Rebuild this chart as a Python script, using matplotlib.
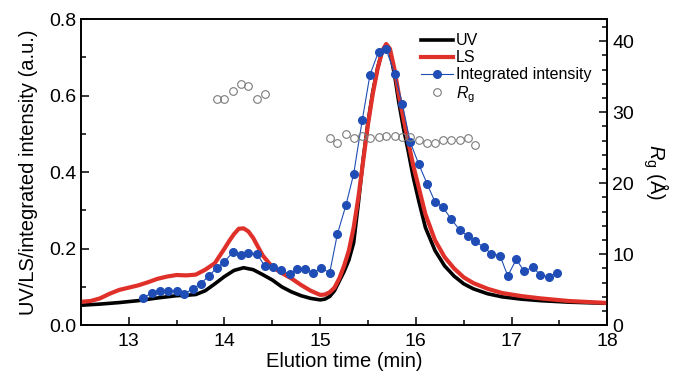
import numpy as np
import matplotlib.pyplot as plt

plt.rcParams['font.family'] = ['Liberation Sans', 'DejaVu Sans']
plt.rcParams['mathtext.fontset'] = 'custom'
plt.rcParams['mathtext.it'] = 'Liberation Sans:italic'
plt.rcParams['mathtext.rm'] = 'Liberation Sans'

# UV trace
uv_t = [12.5, 12.7, 12.9, 13.1, 13.3, 13.5, 13.6, 13.7, 13.8, 13.9, 14.0, 14.1, 14.2,
        14.3, 14.4, 14.5, 14.6, 14.7, 14.8, 14.9, 15.0, 15.05, 15.1, 15.15, 15.2,
        15.25, 15.3, 15.35, 15.4, 15.45, 15.5, 15.55, 15.6, 15.65, 15.69, 15.73,
        15.78, 15.82, 15.87, 15.92, 15.97, 16.03, 16.1, 16.2, 16.3, 16.4, 16.5,
        16.6, 16.75, 16.9, 17.1, 17.3, 17.6, 18.0]
uv = [0.052, 0.055, 0.059, 0.064, 0.071, 0.077, 0.078, 0.080, 0.090, 0.108, 0.127,
      0.143, 0.150, 0.145, 0.132, 0.118, 0.100, 0.087, 0.077, 0.070, 0.066, 0.068,
      0.075, 0.090, 0.115, 0.140, 0.170, 0.215, 0.320, 0.435, 0.530, 0.610, 0.672,
      0.718, 0.732, 0.715, 0.650, 0.585, 0.515, 0.455, 0.390, 0.325, 0.255, 0.195,
      0.155, 0.128, 0.108, 0.095, 0.082, 0.074, 0.068, 0.064, 0.060, 0.057]

# LS trace
ls_t = [12.5, 12.6, 12.7, 12.8, 12.9, 13.0, 13.1, 13.2, 13.3, 13.4, 13.5, 13.6, 13.7,
        13.8, 13.9, 14.0, 14.05, 14.1, 14.15, 14.2, 14.25, 14.3, 14.35, 14.4, 14.5,
        14.6, 14.7, 14.8, 14.9, 15.0, 15.05, 15.1, 15.15, 15.2, 15.25, 15.3, 15.35,
        15.4, 15.45, 15.5, 15.55, 15.6, 15.65, 15.69, 15.73, 15.78, 15.82, 15.87,
        15.92, 15.97, 16.03, 16.1, 16.2, 16.3, 16.4, 16.5, 16.6, 16.75, 16.9, 17.1,
        17.3, 17.6, 18.0]
ls = [0.061, 0.063, 0.070, 0.082, 0.092, 0.098, 0.104, 0.112, 0.121, 0.127, 0.131,
      0.130, 0.132, 0.145, 0.162, 0.200, 0.220, 0.238, 0.252, 0.253, 0.245, 0.228,
      0.205, 0.182, 0.152, 0.136, 0.122, 0.105, 0.090, 0.079, 0.080, 0.086, 0.098,
      0.122, 0.155, 0.195, 0.255, 0.335, 0.430, 0.525, 0.605, 0.670, 0.718, 0.735,
      0.722, 0.665, 0.605, 0.540, 0.480, 0.420, 0.360, 0.290, 0.222, 0.178, 0.148,
      0.125, 0.110, 0.095, 0.084, 0.076, 0.070, 0.063, 0.058]

# integrated intensity points
ii_t = [13.15, 13.24, 13.33, 13.41, 13.50, 13.58, 13.67, 13.75, 13.84, 13.92, 14.00,
        14.09, 14.17, 14.25, 14.34, 14.42, 14.51, 14.59, 14.68, 14.76, 14.84, 14.93,
        15.01, 15.10, 15.18, 15.27, 15.35, 15.44, 15.52, 15.61, 15.69, 15.78, 15.86,
        15.94, 16.03, 16.12, 16.20, 16.28, 16.37, 16.46, 16.54, 16.62, 16.71, 16.79,
        16.88, 16.96, 17.05, 17.13, 17.22, 17.30, 17.39, 17.47]
ii = [0.070, 0.085, 0.089, 0.089, 0.090, 0.082, 0.095, 0.108, 0.129, 0.150, 0.166,
      0.191, 0.183, 0.188, 0.186, 0.155, 0.152, 0.144, 0.134, 0.146, 0.146, 0.137,
      0.149, 0.137, 0.238, 0.314, 0.395, 0.536, 0.654, 0.715, 0.721, 0.656, 0.577,
      0.479, 0.421, 0.368, 0.322, 0.309, 0.277, 0.248, 0.234, 0.220, 0.203, 0.187,
      0.181, 0.129, 0.172, 0.141, 0.151, 0.132, 0.126, 0.137]

# radius of gyration (right axis)
rg_t = [13.92, 14.00, 14.09, 14.17, 14.25, 14.34, 14.42,
        15.10, 15.18, 15.27, 15.35, 15.44, 15.52, 15.61, 15.69, 15.78, 15.86, 15.94,
        16.03, 16.12, 16.20, 16.28, 16.37, 16.46, 16.54, 16.62]
rg = [31.9, 31.9, 33.0, 34.0, 33.7, 31.9, 32.6,
      26.4, 25.7, 26.9, 26.3, 26.6, 26.3, 26.5, 26.6, 26.6, 26.5, 26.5,
      26.1, 25.7, 25.7, 26.1, 26.1, 26.1, 26.4, 25.4]

fig = plt.figure(figsize=(6.74, 3.75), dpi=100)
ax = fig.add_axes([0.120, 0.133, 0.781, 0.816])
ax2 = ax.twinx()

ax.plot(uv_t, uv, color='black', lw=2.6, label='UV', zorder=2)
ax.plot(ls_t, ls, color='#e0302a', lw=3.0, label='LS', zorder=3)
ax.plot(ii_t, ii, color='#1f4db5', lw=0.8, marker='o', ms=5.5,
        label='Integrated intensity', zorder=4)
ax2.plot(rg_t, rg, ls='none', marker='o', ms=5.5, mfc='none', mec='#7a7a7a',
         mew=0.8, label='$R_\\mathrm{g}$')

ax.set_xlim(12.5, 18)
ax.set_ylim(0, 0.8)
ax2.set_ylim(0, 43.1)
ax.set_xticks([13, 14, 15, 16, 17, 18])
ax.set_xticks(np.arange(12.5, 18.01, 0.5), minor=True)
ax.set_yticks([0.0, 0.2, 0.4, 0.6, 0.8])
ax.set_yticks(np.arange(0, 0.81, 0.1), minor=True)
ax2.set_yticks([0, 10, 20, 30, 40])
ax2.set_yticks(np.arange(0, 43, 2), minor=True)

for a in (ax, ax2):
    for s in a.spines.values():
        s.set_linewidth(1.2)
ax.tick_params(which='both', direction='in', labelsize=14, width=1.1, top=False)
ax.tick_params(which='major', length=6)
ax.tick_params(which='minor', length=3.5)
ax.tick_params(axis='x', pad=6)
ax2.tick_params(which='both', direction='in', labelsize=14, width=1.1)
ax2.tick_params(which='major', length=6)
ax2.tick_params(which='minor', length=3.5)

ax.set_xlabel('Elution time (min)', fontsize=14.5, labelpad=1)
ax.set_ylabel('UV/LS/integrated intensity (a.u.)', fontsize=14.5, labelpad=8)
ax2.set_ylabel('$R_\\mathrm{g}$ (Å)', fontsize=14.5, rotation=270, labelpad=26)

h1, l1 = ax.get_legend_handles_labels()
h2, l2 = ax2.get_legend_handles_labels()
ax.legend(h1 + h2, l1 + l2, loc='upper left', bbox_to_anchor=(0.625, 0.99),
          frameon=False, fontsize=11.5, handlelength=2.0, handletextpad=0.2,
          labelspacing=0.12, borderpad=0.2)

fig.savefig('out.png', dpi=100)
